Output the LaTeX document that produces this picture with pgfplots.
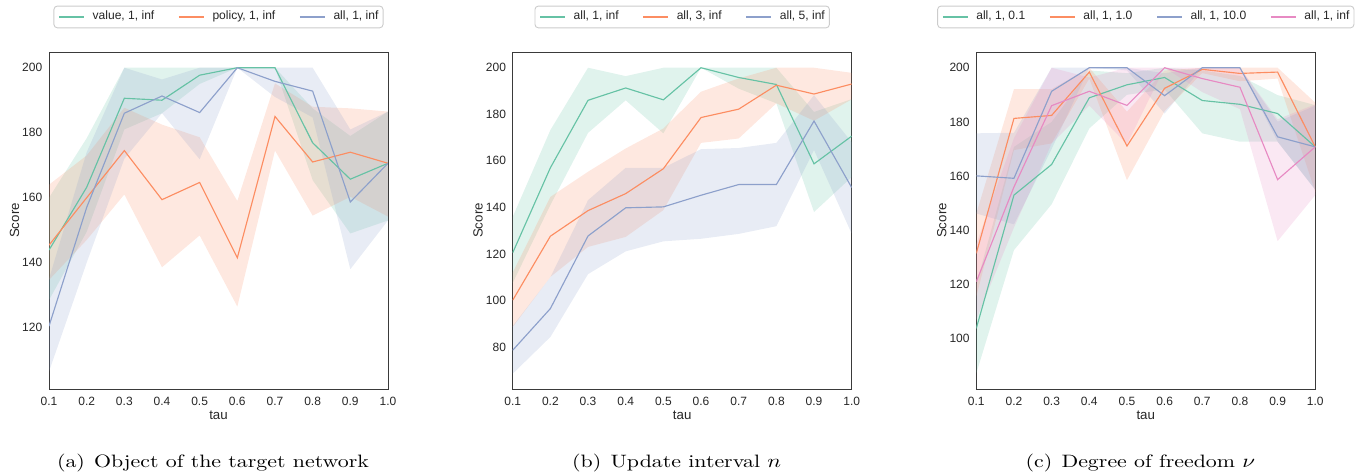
\documentclass[border=0pt]{standalone}
\usepackage{fontspec}
\usepackage{pgfplots}
\pgfplotsset{compat=1.18}
\newfontfamily\arial{Liberation Sans}

\definecolor{cg}{HTML}{66C2A5}
\definecolor{co}{HTML}{FC8D62}
\definecolor{cb}{HTML}{8DA0CB}
\definecolor{cp}{HTML}{E78AC3}
\definecolor{frame}{HTML}{262626}
\definecolor{spine}{HTML}{3A3A3A}
\definecolor{leggray}{HTML}{CCCCCC}

\pgfplotsset{
  panel/.style={
    scale only axis, width=148.03pt, height=147.16pt,
    anchor=north west,
    xmin=0.1, xmax=1.0,
    xtick={0.1,0.2,0.3,0.4,0.5,0.6,0.7,0.8,0.9,1.0},
    major tick length=0pt,
    axis line style={draw=spine, line width=0.42pt},
    /pgf/number format/assume math mode=true,
    tick label style={font=\arial\fontsize{5.24}{6.3}\selectfont, text=frame, inner sep=0pt},
    xticklabel style={anchor=base, yshift=-7pt,
      /pgf/number format/.cd, fixed, fixed zerofill, precision=1},
    yticklabel style={anchor=east, xshift=-2.75pt},
    xlabel={tau}, ylabel={Score},
    label style={font=\arial\fontsize{5.8}{7}\selectfont, text=frame},
    xlabel style={at={(axis description cs:0.5,-0.089)}, anchor=base},
    ylabel style={at={(axis description cs:-0.0885,0.5)}, anchor=base},
    legend columns=-1,
    legend style={at={(0.5,1)}, anchor=south, yshift=10.35pt,
      draw=leggray, line width=0.4pt, rounded corners=1.5pt,
      font=\arial\fontsize{5.27}{6.3}\selectfont, text=frame,
      inner xsep=2pt, inner ysep=2.1pt,
      nodes={inner sep=0pt},
      /tikz/every odd column/.append style={column sep=3.5pt},
      /tikz/every even column/.append style={column sep=10.5pt}},
    legend image code/.code={\draw[##1] (0pt,0pt) -- (10.9pt,0pt);},
  },
  band/.style={draw=none, fill=#1, fill opacity=0.2, forget plot},
  ln/.style={draw=#1, line width=0.5pt, mark=none},
}

\begin{document}
\begin{tikzpicture}
\path[use as bounding box] (0,0) rectangle (595.2pt,-207.4pt);

% (a) object of the target network
\begin{axis}[panel, at={(21.40pt,-22.71pt)}, ymin=101.14, ymax=204.83,
  ytick={120,140,160,180,200}]
\addplot[band=cg] coordinates {(0.1,160) (0.2,178.3) (0.3,200) (0.4,200) (0.5,200) (0.6,200) (0.7,200) (0.8,187.5) (0.9,179) (1.0,186.5)
  (1.0,153) (0.9,149) (0.8,165.4) (0.7,200) (0.6,200) (0.5,195) (0.4,186) (0.3,181) (0.2,149.5) (0.1,128.5)} -- cycle;
\addplot[band=co] coordinates {(0.1,164) (0.2,173) (0.3,187.7) (0.4,182.5) (0.5,178.6) (0.6,159) (0.7,195.2) (0.8,188) (0.9,187.5) (1.0,186.5)
  (1.0,154.2) (0.9,160.3) (0.8,154.5) (0.7,174.5) (0.6,126.5) (0.5,148.4) (0.4,138.6) (0.3,161) (0.2,147) (0.1,134.7)} -- cycle;
\addplot[band=cb] coordinates {(0.1,135) (0.2,174) (0.3,200) (0.4,196.4) (0.5,200) (0.6,200) (0.7,200) (0.8,200) (0.9,181) (1.0,186.5)
  (1.0,153) (0.9,138) (0.8,184.7) (0.7,191) (0.6,200) (0.5,171.8) (0.4,186) (0.3,172) (0.2,140) (0.1,106.5)} -- cycle;
\addplot[ln=cg] coordinates {(0.1,143.9) (0.2,163.2) (0.3,190.6) (0.4,190.0) (0.5,197.7) (0.6,200) (0.7,200) (0.8,176.9) (0.9,165.7) (1.0,170.6)};
\addlegendentry{value, 1, inf}
\addplot[ln=co] coordinates {(0.1,145.4) (0.2,160.0) (0.3,174.5) (0.4,159.4) (0.5,164.7) (0.6,141.5) (0.7,185.0) (0.8,171.0) (0.9,174.0) (1.0,170.6)};
\addlegendentry{policy, 1, inf}
\addplot[ln=cb] coordinates {(0.1,120.5) (0.2,157) (0.3,186) (0.4,191.3) (0.5,186.2) (0.6,200) (0.7,195.8) (0.8,192.8) (0.9,158.7) (1.0,170.6)};
\addlegendentry{all, 1, inf}
\end{axis}

% (b) update interval
\begin{axis}[panel, at={(223.89pt,-22.71pt)}, ymin=61.94, ymax=206.75,
  ytick={80,100,120,140,160,180,200}]
\addplot[band=cg] coordinates {(0.1,135.9) (0.2,173.2) (0.3,200) (0.4,196.4) (0.5,200) (0.6,200) (0.7,200) (0.8,200) (0.9,181) (1.0,186.5)
  (1.0,153) (0.9,138) (0.8,184.7) (0.7,191) (0.6,200) (0.5,171.8) (0.4,186) (0.3,172) (0.2,141) (0.1,107.5)} -- cycle;
\addplot[band=co] coordinates {(0.1,112) (0.2,144.5) (0.3,155.3) (0.4,165.3) (0.5,173.9) (0.6,189.7) (0.7,195.4) (0.8,200) (0.9,200) (1.0,197.8)
  (1.0,186.4) (0.9,177.2) (0.8,184.7) (0.7,169.6) (0.6,167.7) (0.5,138.8) (0.4,127.3) (0.3,123) (0.2,110.1) (0.1,88.6)} -- cycle;
\addplot[band=cb] coordinates {(0.1,89) (0.2,110) (0.3,143.1) (0.4,157) (0.5,157) (0.6,165) (0.7,165.5) (0.8,167.7) (0.9,188.2) (1.0,168)
  (1.0,128.7) (0.9,164.6) (0.8,131.9) (0.7,128.6) (0.6,126.5) (0.5,125.4) (0.4,121.1) (0.3,111.3) (0.2,84.3) (0.1,68.5)} -- cycle;
\addplot[ln=cg] coordinates {(0.1,120.5) (0.2,157) (0.3,186) (0.4,191.3) (0.5,186.2) (0.6,200) (0.7,195.8) (0.8,192.8) (0.9,158.7) (1.0,170.6)};
\addlegendentry{all, 1, inf}
\addplot[ln=co] coordinates {(0.1,100.1) (0.2,127.6) (0.3,138.6) (0.4,145.9) (0.5,156.6) (0.6,178.6) (0.7,182.2) (0.8,192.5) (0.9,188.7) (1.0,193.0)};
\addlegendentry{all, 3, inf}
\addplot[ln=cb] coordinates {(0.1,78.6) (0.2,96.5) (0.3,127.7) (0.4,139.8) (0.5,140.2) (0.6,145.2) (0.7,149.8) (0.8,149.8) (0.9,177.1) (1.0,148.5)};
\addlegendentry{all, 5, inf}
\end{axis}

% (c) degree of freedom
\begin{axis}[panel, at={(426.33pt,-22.71pt)}, ymin=81.44, ymax=205.8,
  ytick={100,120,140,160,180,200}]
\addplot[band=cg] coordinates {(0.1,120) (0.2,170.8) (0.3,180) (0.4,199) (0.5,198) (0.6,200) (0.7,199) (0.8,197) (0.9,189.9) (1.0,186.2)
  (1.0,155) (0.9,172.7) (0.8,172.7) (0.7,175.8) (0.6,192) (0.5,190) (0.4,177.6) (0.3,149.6) (0.2,132.7) (0.1,87.2)} -- cycle;
\addplot[band=co] coordinates {(0.1,146.2) (0.2,192.1) (0.3,192.1) (0.4,200) (0.5,183.8) (0.6,199) (0.7,200) (0.8,200) (0.9,200) (1.0,187.1)
  (1.0,154.2) (0.9,196) (0.8,195) (0.7,198) (0.6,184) (0.5,158.5) (0.4,196) (0.3,172.1) (0.2,169.6) (0.1,115.5)} -- cycle;
\addplot[band=cb] coordinates {(0.1,175.8) (0.2,176) (0.3,200) (0.4,200) (0.5,200) (0.6,198) (0.7,200) (0.8,200) (0.9,180.1) (1.0,186)
  (1.0,154.9) (0.9,172.7) (0.8,200) (0.7,200) (0.6,183.1) (0.5,199) (0.4,200) (0.3,170) (0.2,142.2) (0.1,146.2)} -- cycle;
\addplot[band=cp] coordinates {(0.1,135) (0.2,174) (0.3,200) (0.4,196.4) (0.5,200) (0.6,200) (0.7,200) (0.8,200) (0.9,181) (1.0,186.5)
  (1.0,153) (0.9,136) (0.8,184.7) (0.7,191) (0.6,200) (0.5,171.8) (0.4,186) (0.3,172) (0.2,141) (0.1,107)} -- cycle;
\addplot[ln=cg] coordinates {(0.1,103.8) (0.2,153.0) (0.3,164.3) (0.4,188.9) (0.5,193.7) (0.6,196.4) (0.7,187.9) (0.8,186.5) (0.9,183.1) (1.0,170.8)};
\addlegendentry{all, 1, 0.1}
\addplot[ln=co] coordinates {(0.1,131.5) (0.2,181.3) (0.3,182.4) (0.4,198.4) (0.5,171.1) (0.6,192.4) (0.7,199.4) (0.8,197.9) (0.9,198.4) (1.0,170.8)};
\addlegendentry{all, 1, 1.0}
\addplot[ln=cb] coordinates {(0.1,160.1) (0.2,159.2) (0.3,191.3) (0.4,200) (0.5,200) (0.6,189.7) (0.7,200) (0.8,200) (0.9,174.5) (1.0,170.8)};
\addlegendentry{all, 1, 10.0}
\addplot[ln=cp] coordinates {(0.1,121) (0.2,156) (0.3,186) (0.4,191.3) (0.5,186.1) (0.6,200) (0.7,196) (0.8,192.8) (0.9,158.7) (1.0,170.8)};
\addlegendentry{all, 1, inf}
\end{axis}

\tikzset{subcap/.style={font=\fontsize{9.55}{11}\selectfont, anchor=base, yscale=0.82}}
\node[subcap] at (93.0pt,-204.1pt) {(a)\hspace{0.42em}Object of the target network};
\node[subcap] at (295.5pt,-204.1pt) {(b)\hspace{0.42em}Update interval $n$};
\node[subcap] at (498.0pt,-204.1pt) {(c)\hspace{0.42em}Degree of freedom $\nu$};
\end{tikzpicture}
\end{document}
